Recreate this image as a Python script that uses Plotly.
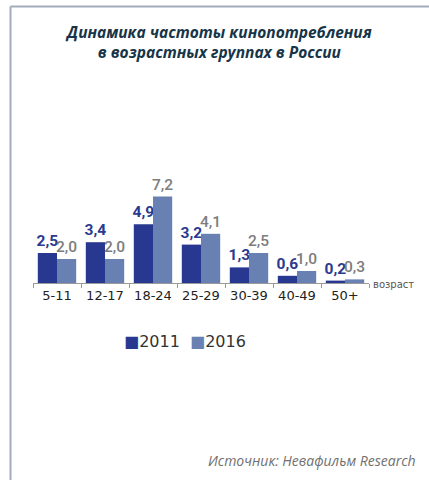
import plotly.graph_objects as go

categories = ["5-11", "12-17", "18-24", "25-29", "30-39", "40-49", "50+"]
values_2011 = [2.5, 3.4, 4.9, 3.2, 1.3, 0.6, 0.2]
values_2016 = [2.0, 2.0, 7.2, 4.1, 2.5, 1.0, 0.3]
series_names = ["2011", "2016"]
colors = ["#283891", "#6880b2"]

W, H = 429, 480
L, R = 33, 369
BASE = 283
YMAX = 8.0
PX_PER_UNIT = 11.94
TOP = BASE - YMAX * PX_PER_UNIT

LABEL_FONT = "Roboto"


def px(x):
    return (x - L) / (R - L)


def py(y):
    return (BASE - y) / (BASE - TOP)


def fmt(v):
    return f"{v:.1f}".replace(".", ",")


fig = go.Figure()
fig.add_trace(go.Bar(
    x=categories, y=values_2011, name=series_names[0],
    marker=dict(color=colors[0], line=dict(width=0)),
    text=[fmt(v) for v in values_2011], textposition="outside", constraintext="none",
    textfont=dict(color="#2b3990", size=15.5, family=LABEL_FONT, weight="bold"),
    cliponaxis=False, showlegend=False,
))
fig.add_trace(go.Bar(
    x=categories, y=values_2016, name=series_names[1],
    marker=dict(color=colors[1], line=dict(width=0)),
    text=[fmt(v) for v in values_2016], textposition="outside", constraintext="none",
    textfont=dict(color="#7d7d7d", size=15.5, family=LABEL_FONT, weight=500),
    cliponaxis=False, showlegend=False,
))

frame_color = "#a3abbb"
shapes = [
    dict(type="line", xref="paper", yref="paper", x0=px(10.5), x1=px(429), y0=py(8), y1=py(8),
         line=dict(color=frame_color, width=2)),
    dict(type="line", xref="paper", yref="paper", x0=px(10.5), x1=px(10.5), y0=py(8), y1=py(480),
         line=dict(color=frame_color, width=2)),
]

legend_text = (f"<span style='color:{colors[0]}'>■</span>{series_names[0]}  "
               f"<span style='color:{colors[1]}'>■</span>{series_names[1]}")

annotations = [
    dict(text="<b><i>Динамика частоты кинопотребления<br>в возрастных группах в России</i></b>",
         xref="paper", yref="paper", x=px(218), y=py(43), xanchor="center", yanchor="middle",
         showarrow=False, align="center",
         font=dict(family="Open Sans", size=15.5, color="#163548")),
    dict(text="возраст", xref="paper", yref="paper", x=px(371), y=py(284),
         xanchor="left", yanchor="middle", showarrow=False,
         font=dict(family="DejaVu Sans", size=10, color="#555555")),
    dict(text="<i>Источник: Невафильм Research</i>", xref="paper", yref="paper",
         x=px(418), y=py(460), xanchor="right", yanchor="middle", showarrow=False,
         font=dict(family="Open Sans", size=14, color="#707070")),
    dict(text=legend_text, xref="paper", yref="paper", x=px(122), y=py(341),
         xanchor="left", yanchor="middle", showarrow=False,
         font=dict(family="DejaVu Sans", size=16, color="#333333")),
]

fig.update_layout(
    width=W, height=H,
    margin=dict(l=L, r=W - R, t=TOP, b=H - BASE, pad=0),
    paper_bgcolor="white", plot_bgcolor="white",
    barmode="group", bargap=0.2, bargroupgap=0,
    showlegend=False,
    xaxis=dict(showline=True, linecolor="#9a9a9a", linewidth=1, ticks="outside",
               tickson="boundaries", ticklen=4, tickcolor="#9a9a9a", showgrid=False,
               tickfont=dict(family="DejaVu Sans", size=13, color="#222222")),
    yaxis=dict(range=[0, YMAX], visible=False, showgrid=False),
    shapes=shapes, annotations=annotations,
    font=dict(family="DejaVu Sans"),
)

fig.write_html("out.html")
